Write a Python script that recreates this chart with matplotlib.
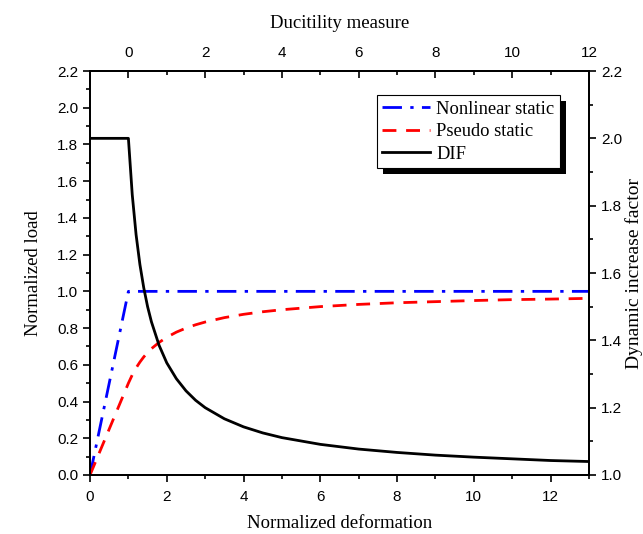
"""
Load-deformation response and dynamic increase factor (DIF)
Nonlinear static vs. pseudo static curves with DIF on a secondary axis
"""
import matplotlib
matplotlib.use('Agg')
import matplotlib.pyplot as plt
from matplotlib.patches import Rectangle
from matplotlib.ticker import MultipleLocator

# ============================================================================
# DATA
# ============================================================================
# Nonlinear static (bilinear)
x_nonlinear = [0.0, 1.0, 13.0]
load_nonlinear = [0.0, 1.0, 1.0]

# Pseudo static
x_pseudo = [0.0, 1.0, 1.1, 1.2, 1.3, 1.4, 1.5, 1.6, 1.8, 2.0, 2.25, 2.5, 2.75,
            3.0, 3.5, 4.0, 4.5, 5.0, 6.0, 7.0, 8.0, 9.0, 10.0, 11.0, 12.0, 13.0]
load_pseudo = [0.0, 0.500, 0.545, 0.583, 0.615, 0.643, 0.667, 0.688, 0.722,
               0.750, 0.778, 0.800, 0.818, 0.833, 0.857, 0.875, 0.889, 0.900,
               0.917, 0.929, 0.938, 0.944, 0.950, 0.955, 0.958, 0.962]

# Dynamic increase factor (right axis)
x_dif = [0.0, 1.0, 1.1, 1.2, 1.3, 1.4, 1.5, 1.6, 1.8, 2.0, 2.25, 2.5, 2.75,
         3.0, 3.5, 4.0, 4.5, 5.0, 6.0, 7.0, 8.0, 9.0, 10.0, 11.0, 12.0, 13.0]
dif = [2.000, 2.000, 1.833, 1.714, 1.625, 1.556, 1.500, 1.455, 1.385, 1.333,
       1.286, 1.250, 1.222, 1.200, 1.167, 1.143, 1.125, 1.111, 1.091, 1.077,
       1.067, 1.059, 1.053, 1.048, 1.043, 1.040]

SERIF = 'Liberation Serif'
SANS = 'Liberation Sans'
LABEL_SIZE = 13.5
TICK_SIZE = 11
OUTPUT_IMAGE = 'out.png'


def style_ticks(axis_obj, direction):
    axis_obj.tick_params(which='major', direction=direction, length=5, width=1.2,
                         labelsize=TICK_SIZE)
    axis_obj.tick_params(which='minor', direction=direction, length=3, width=1.2)
    for lbl in axis_obj.get_xticklabels() + axis_obj.get_yticklabels():
        lbl.set_fontfamily(SANS)


fig = plt.figure(figsize=(6.43, 5.34), dpi=100)
ax = fig.add_axes([0.140, 0.1105, 0.776, 0.7565])

# Left / bottom axes: normalized load vs deformation
l1, = ax.plot(x_nonlinear, load_nonlinear, color='blue', lw=2,
              dashes=(7, 3, 1.2, 3), label='Nonlinear static')
l2, = ax.plot(x_pseudo, load_pseudo, color='red', lw=2,
              dashes=(5, 3.5), label='Pseudo static')
ax.set_xlim(0, 13)
ax.set_ylim(0, 2.2)
ax.xaxis.set_major_locator(MultipleLocator(2))
ax.xaxis.set_minor_locator(MultipleLocator(1))
ax.yaxis.set_major_locator(MultipleLocator(0.2))
ax.yaxis.set_minor_locator(MultipleLocator(0.1))
ax.set_yticks([i * 0.2 for i in range(12)])
ax.set_yticklabels([f'{i * 0.2:.1f}' for i in range(12)])
ax.set_xlabel('Normalized deformation', fontfamily=SERIF, fontsize=LABEL_SIZE,
              labelpad=8)
ax.set_ylabel('Normalized load', fontfamily=SERIF, fontsize=LABEL_SIZE,
              labelpad=11)
style_ticks(ax, 'out')
ax.tick_params(axis='x', which='major', pad=6)

# Right axis: dynamic increase factor
ax_r = ax.twinx()
l3, = ax_r.plot(x_dif, dif, color='black', lw=2, label='DIF')
ax_r.set_ylim(1.0, 2.2)
ax_r.yaxis.set_major_locator(MultipleLocator(0.2))
ax_r.yaxis.set_minor_locator(MultipleLocator(0.1))
ax_r.set_yticks([1.0 + i * 0.2 for i in range(7)])
ax_r.set_yticklabels([f'{1.0 + i * 0.2:.1f}' for i in range(7)])
ax_r.set_ylabel('Dynamic increase factor', fontfamily=SERIF, fontsize=14,
                labelpad=2)
style_ticks(ax_r, 'out')

# Top axis: ductility measure (shifted by one)
ax_t = ax.twiny()
ax_t.set_xlim(-1, 12)
ax_t.xaxis.set_major_locator(MultipleLocator(2))
ax_t.xaxis.set_minor_locator(MultipleLocator(1))
ax_t.set_xticks(range(0, 13, 2))
ax_t.set_xlabel('Ducitility measure', fontfamily=SERIF, fontsize=LABEL_SIZE,
                labelpad=13)
style_ticks(ax_t, 'in')
ax_t.tick_params(which='major', pad=8)

for a in (ax, ax_r, ax_t):
    for sp in a.spines.values():
        sp.set_linewidth(1.2)

leg = ax_t.legend(handles=[l1, l2, l3], loc='upper left',
                  bbox_to_anchor=(0.575, 0.94), frameon=True, fancybox=False,
                  framealpha=1, prop={'family': SERIF, 'size': 13.3},
                  handlelength=2.6, handletextpad=0.3, labelspacing=0.3,
                  borderpad=0.3, borderaxespad=0)
leg.get_frame().set_edgecolor('black')
leg.get_frame().set_linewidth(0.8)
leg.set_zorder(10)

# Solid black drop shadow behind the legend
fig.canvas.draw()
bb = leg.get_window_extent().transformed(fig.transFigure.inverted())
dx, dy = 6 / fig.bbox.width, 6 / fig.bbox.height
ax_t.add_patch(Rectangle((bb.x0 + dx, bb.y0 - dy), bb.width, bb.height,
                         transform=fig.transFigure, facecolor='black',
                         edgecolor='none', zorder=9, clip_on=False))

fig.savefig(OUTPUT_IMAGE, dpi=100)
